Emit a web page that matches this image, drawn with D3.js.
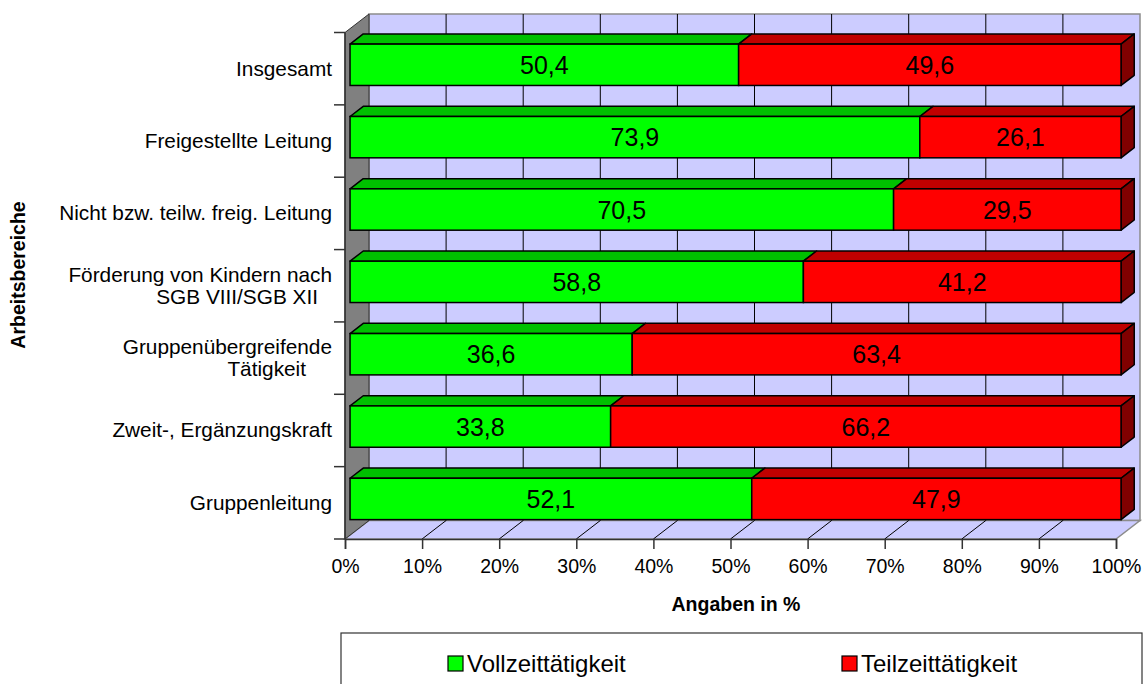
<!DOCTYPE html>
<html><head><meta charset="utf-8">
<script src="https://cdn.jsdelivr.net/npm/d3@7"></script>
<style>body{margin:0;background:#fff}svg{display:block}</style>
</head><body>
<svg id="c" width="1144" height="684"></svg>
<script>
const categories = [
  ["Insgesamt"],
  ["Freigestellte Leitung"],
  ["Nicht bzw. teilw. freig. Leitung"],
  ["Förderung von Kindern nach", "SGB VIII/SGB XII"],
  ["Gruppenübergreifende", "Tätigkeit"],
  ["Zweit-, Ergänzungskraft"],
  ["Gruppenleitung"]
];
const vollzeit = [50.4, 73.9, 70.5, 58.8, 36.6, 33.8, 52.1];
const teilzeit = [49.6, 26.1, 29.5, 41.2, 63.4, 66.2, 47.9];
const seriesNames = ["Vollzeittätigkeit", "Teilzeittätigkeit"];
const xTicks = [0,10,20,30,40,50,60,70,80,90,100];
const xTitle = "Angaben in %";
const yTitle = "Arbeitsbereiche";

const FONT = "'Liberation Sans', Arial, sans-serif";
const svg = d3.select("#c");
const keys = categories.map(c => c.join(" "));

const x = d3.scaleLinear().domain([0,100]).range([345,1116]);
const p = 0.75/1.75;
const y = d3.scaleBand().domain(keys).range([32.5,539]).paddingInner(p).paddingOuter(p/2);
const DX = 24, DY = -18.5;           // full depth
const F0 = 0.21, F1 = 0.76;          // bar depth fraction
const yTop = 32.5, yBot = 539, x0 = x(0), x1 = x(100);

const pt = (a) => a.map(q => q.join(",")).join(" ");

// back wall
svg.append("polygon").attr("points", pt([[x0+DX,yTop+DY],[x1+DX,yTop+DY],[x1+DX,yBot+DY],[x0+DX,yBot+DY]]))
  .attr("fill","#ccccff").attr("stroke","#8c8c8c").attr("stroke-width",1.5);
// floor
svg.append("polygon").attr("points", pt([[x0,yBot],[x0+DX,yBot+DY],[x1+DX,yBot+DY],[x1,yBot]]))
  .attr("fill","#ccccff").attr("stroke","#8c8c8c").attr("stroke-width",1.5);
// left wall
svg.append("polygon").attr("points", pt([[x0,yTop],[x0+DX,yTop+DY],[x0+DX,yBot+DY],[x0,yBot]]))
  .attr("fill","#808080").attr("stroke","#333").attr("stroke-width",1);
// gridlines back wall
svg.append("g").selectAll("line").data(xTicks.slice(1,-1)).join("line")
  .attr("x1", d => x(d)+DX).attr("x2", d => x(d)+DX)
  .attr("y1", yTop+DY).attr("y2", yBot+DY).attr("stroke","#000").attr("stroke-width",1);
// floor diagonals
svg.append("g").selectAll("line").data(xTicks.slice(1,-1)).join("line")
  .attr("x1", d => x(d)).attr("x2", d => x(d)+DX)
  .attr("y1", yBot).attr("y2", yBot+DY).attr("stroke","#000").attr("stroke-width",1);

// axes
const xAxis = d3.axisBottom(x).tickValues(xTicks).tickFormat(d => d + "%").tickSize(10).tickPadding(10);
const gx = svg.append("g").attr("transform", `translate(0,${yBot})`).call(xAxis);
gx.select(".domain").attr("stroke","#333").attr("stroke-width",1.5);
gx.selectAll(".tick line").attr("stroke","#333").attr("stroke-width",1.5);
gx.selectAll("text").attr("font-family",FONT).attr("font-size","19.5px").attr("fill","#000");

// y axis line and ticks at category boundaries
svg.append("line").attr("x1",x0).attr("x2",x0).attr("y1",yTop).attr("y2",yBot).attr("stroke","#333").attr("stroke-width",1.5);
const step = y.step();
svg.append("g").selectAll("line").data(d3.range(keys.length+1)).join("line")
  .attr("x1", x0-11).attr("x2", x0).attr("y1", i => yTop + i*step).attr("y2", i => yTop + i*step)
  .attr("stroke","#333").attr("stroke-width",1.5);

// category labels
const lab = svg.append("g").attr("font-family",FONT).attr("font-size","20.8px").attr("fill","#000");
categories.forEach((lines, i) => {
  const cy = y(keys[i]) + y.bandwidth()/2;
  if (lines.length === 1) {
    lab.append("text").attr("x",332).attr("y",cy+7).attr("text-anchor","end").text(lines[0]);
  } else {
    lab.append("text").attr("x",332).attr("y",cy-4).attr("text-anchor","end").text(lines[0]);
    lab.append("text").attr("x",332 - (i===3?14:26)).attr("y",cy+18).attr("text-anchor","end").text(lines[1]);
  }
});

// bars
const colors = [
  {front:"#00ff00", top:"#00c000", side:"#008000"},
  {front:"#ff0000", top:"#c00000", side:"#800000"}
];
const ox0 = F0*DX, oy0 = F0*DY, bdx = (F1-F0)*DX, bdy = (F1-F0)*DY;
const barsG = svg.append("g");
categories.forEach((c, i) => {
  const vals = [vollzeit[i], teilzeit[i]];
  let acc = 0;
  const yf = y(keys[i]) + oy0, h = y.bandwidth();
  vals.forEach((v, s) => {
    const xa = x(acc) + ox0, xb = x(acc + v) + ox0;
    const col = colors[s];
    barsG.append("polygon").attr("points", pt([[xa,yf],[xa+bdx,yf+bdy],[xb+bdx,yf+bdy],[xb,yf]]))
      .attr("fill", col.top).attr("stroke","#000").attr("stroke-width",1.5).attr("stroke-linejoin","round");
    if (s === vals.length-1) {
      barsG.append("polygon").attr("points", pt([[xb,yf],[xb+bdx,yf+bdy],[xb+bdx,yf+h+bdy],[xb,yf+h]]))
        .attr("fill", col.side).attr("stroke","#000").attr("stroke-width",1.5).attr("stroke-linejoin","round");
    }
    barsG.append("rect").attr("x", xa).attr("y", yf).attr("width", xb-xa).attr("height", h)
      .attr("fill", col.front).attr("stroke","#000").attr("stroke-width",1.5);
    barsG.append("text").attr("x",(xa+xb)/2).attr("y", yf + h/2 + 9)
      .attr("text-anchor","middle").attr("font-family",FONT).attr("font-size","25px").attr("fill","#000")
      .text(v.toFixed(1).replace(".", ","));
    acc += v;
  });
});

// axis titles
svg.append("text").attr("x",736).attr("y",611).attr("text-anchor","middle")
  .attr("font-family",FONT).attr("font-weight","bold").attr("font-size","19.5px").text(xTitle);
svg.append("text").attr("transform","translate(25,275) rotate(-90)").attr("text-anchor","middle")
  .attr("font-family",FONT).attr("font-weight","bold").attr("font-size","19.5px").text(yTitle);

// legend
const lg = svg.append("g");
lg.append("rect").attr("x",341).attr("y",633).attr("width",801).attr("height",70)
  .attr("fill","#fff").attr("stroke","#333").attr("stroke-width",1.2);
const legX = [448, 842];
seriesNames.forEach((n, s) => {
  lg.append("rect").attr("x",legX[s]).attr("y",656).attr("width",15).attr("height",15)
    .attr("fill",colors[s].front).attr("stroke","#000").attr("stroke-width",1.2);
  lg.append("text").attr("x",legX[s]+19).attr("y",672).attr("font-family",FONT).attr("font-size","24px").text(n);
});
</script>
</body></html>
